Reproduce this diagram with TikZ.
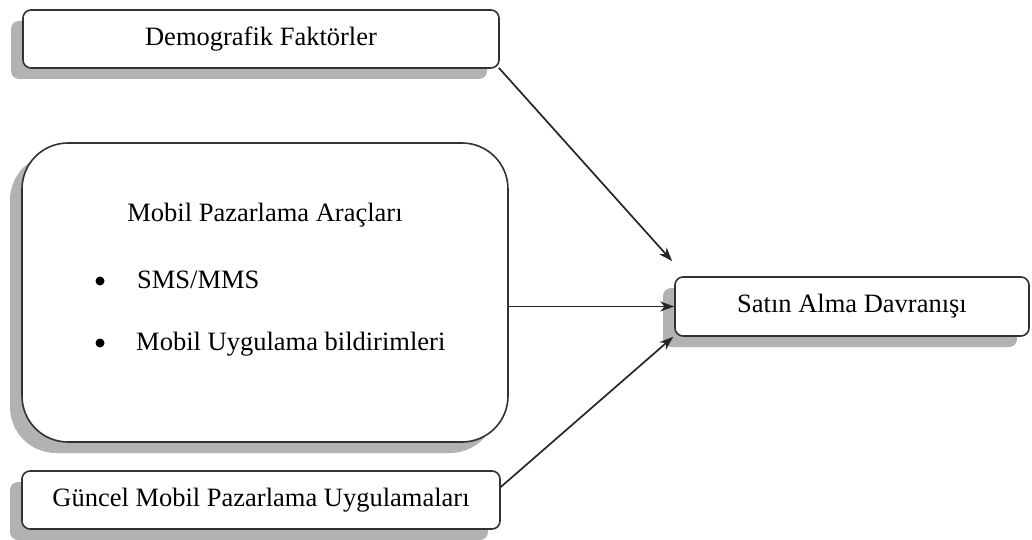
\documentclass[tikz,border=0pt]{standalone}
\usepackage{fontspec}
\setmainfont{Liberation Serif}
\usetikzlibrary{shadows,arrows.meta}
\definecolor{edge}{RGB}{50,50,50}
\definecolor{shade}{RGB}{178,178,178}
\tikzset{
  box/.style={draw=edge, line width=1.6pt, fill=white, rounded corners=8pt,
    inner sep=0pt, align=center,
    drop shadow={shadow xshift=-12pt, shadow yshift=-11pt, fill=shade, opacity=1}},
  bigbox/.style={box, rounded corners=46pt},
  lbl/.style={inner sep=0pt, font=\fontsize{26.5}{30}\selectfont},
  bulletdot/.style={circle, fill=black, inner sep=0pt, minimum size=9pt},
  arr/.style={draw=black!85, line width=1.7pt, -{Stealth[length=14pt,width=10pt]}}
}
\begin{document}
\begin{tikzpicture}[x=1pt,y=-1pt]
\useasboundingbox (0,0) rectangle (1032,540);
\node[box, minimum width=476pt, minimum height=58pt, font=\fontsize{26.5}{30}\selectfont] (d) at (261,39) {Demografik Faktörler};
\node[bigbox, minimum width=486pt, minimum height=299pt] (m) at (265,292.5) {};
\node[box, minimum width=478pt, minimum height=58pt, font=\fontsize{26.5}{30}\selectfont] (g) at (261,500) {Güncel Mobil Pazarlama Uygulamaları};
\node[box, minimum width=354pt, minimum height=59pt, font=\fontsize{26.5}{30}\selectfont] (s) at (852,306.5) {Satın Alma Davranışı};
\node[lbl, anchor=base] (t) at (265,221) {Mobil Pazarlama Araçları};
\node[bulletdot] (b1) at (100,281) {};
\node[lbl, anchor=base west] (i1) at (137,288) {SMS/MMS};
\node[bulletdot] (b2) at (100,343) {};
\node[lbl, anchor=base west] (i2) at (136,350) {Mobil Uygulama bildirimleri};
\coordinate (e1) at ([xshift=-2pt,yshift=15pt]s.north west);
\draw[arr] ([xshift=-1pt,yshift=1pt]d.south east) -- (e1);
\draw[arr] (m.east |- s.west) -- (s.west);
\draw[arr] ([yshift=13pt]g.east) -- ([xshift=-1pt]s.south west);
\end{tikzpicture}
\end{document}
